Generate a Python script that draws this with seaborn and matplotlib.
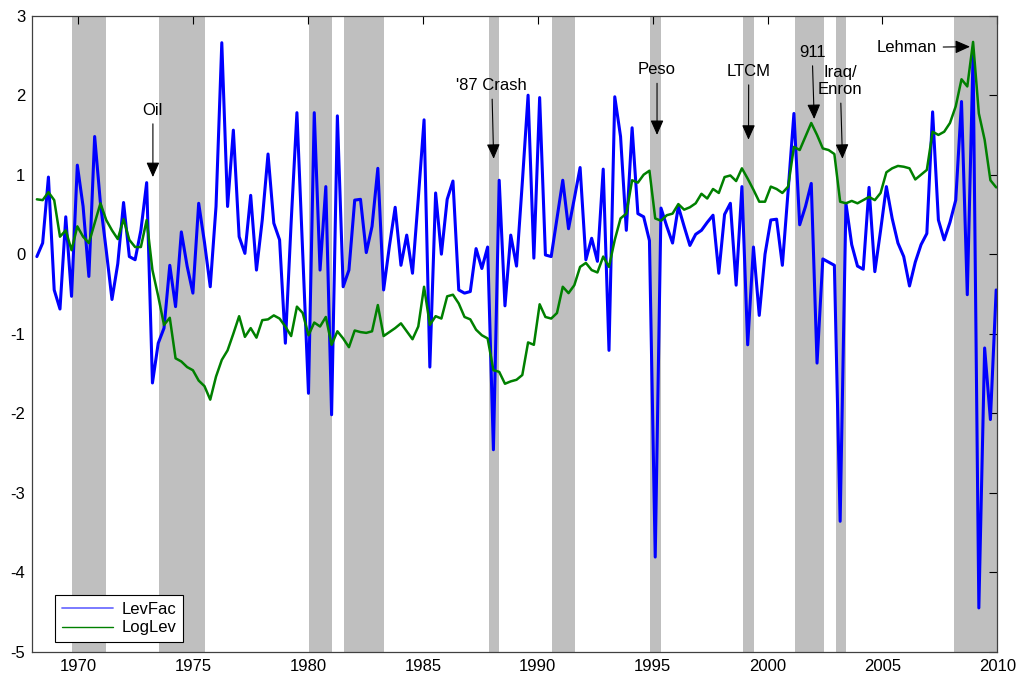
import numpy as np
import pandas as pd
import matplotlib.pyplot as plt
from matplotlib.lines import Line2D
import seaborn as sns

# quarterly series (decimal-year axis)
first_date, last_date = 1968.2, 2009.95

levfac = [
    -0.03, 0.14, 0.97, -0.45, -0.69, 0.47, -0.53, 1.12, 0.60, -0.28,
    1.48, 0.64, 0.05, -0.57, -0.12, 0.65, -0.03, -0.07, 0.30, 0.90,
    -1.62, -1.12, -0.93, -0.14, -0.66, 0.28, -0.15, -0.49, 0.64, 0.15,
    -0.41, 0.60, 2.66, 0.60, 1.56, 0.22, 0.01, 0.74, -0.20, 0.43,
    1.26, 0.39, 0.18, -1.12, 0.40, 1.78, 0.00, -1.75, 1.78, -0.20,
    0.85, -2.02, 1.74, -0.41, -0.20, 0.68, 0.69, 0.02, 0.35, 1.08,
    -0.45, 0.10, 0.59, -0.14, 0.24, -0.24, 0.70, 1.69, -1.42, 0.77,
    0.00, 0.69, 0.92, -0.45, -0.49, -0.47, 0.07, -0.18, 0.09, -2.46,
    0.93, -0.65, 0.24, -0.15, 0.90, 2.00, -0.05, 1.97, -0.01, -0.03,
    0.45, 0.93, 0.32, 0.70, 1.09, -0.07, 0.20, -0.09, 1.07, -1.21,
    1.98, 1.48, 0.30, 1.59, 0.51, 0.47, 0.17, -3.81, 0.58, 0.35,
    0.14, 0.60, 0.35, 0.11, 0.25, 0.30, 0.40, 0.49, -0.24, 0.50,
    0.64, -0.39, 0.85, -1.14, 0.09, -0.77, 0.00, 0.43, 0.44, -0.14,
    0.80, 1.77, 0.37, 0.60, 0.89, -1.37, -0.06, -0.10, -0.14, -3.36,
    0.64, 0.12, -0.15, -0.19, 0.84, -0.22, 0.30, 0.85, 0.45, 0.14,
    -0.03, -0.40, -0.10, 0.12, 0.26, 1.79, 0.43, 0.18, 0.40, 0.68,
    1.92, -0.51, 2.50, -4.45, -1.18, -2.08, -0.45,
]

loglev = [
    0.69, 0.68, 0.78, 0.68, 0.22, 0.30, 0.05, 0.35, 0.22, 0.14,
    0.39, 0.64, 0.43, 0.30, 0.19, 0.44, 0.18, 0.09, 0.09, 0.43,
    -0.20, -0.53, -0.89, -0.80, -1.31, -1.35, -1.42, -1.46, -1.59, -1.66,
    -1.83, -1.54, -1.33, -1.21, -1.00, -0.78, -1.04, -0.93, -1.05, -0.83,
    -0.82, -0.77, -0.81, -0.91, -1.03, -0.66, -0.74, -1.02, -0.86, -0.91,
    -0.79, -1.14, -0.97, -1.06, -1.17, -0.96, -0.98, -0.99, -0.97, -0.64,
    -1.03, -0.98, -0.93, -0.87, -0.97, -1.07, -0.91, -0.41, -0.89, -0.78,
    -0.81, -0.53, -0.51, -0.62, -0.79, -0.82, -0.95, -1.02, -1.06, -1.46,
    -1.48, -1.63, -1.60, -1.58, -1.52, -1.11, -1.14, -0.63, -0.79, -0.81,
    -0.74, -0.41, -0.49, -0.39, -0.16, -0.11, -0.20, -0.23, -0.03, -0.16,
    0.18, 0.45, 0.51, 0.93, 0.90, 1.00, 1.05, 0.45, 0.42, 0.49,
    0.51, 0.63, 0.56, 0.59, 0.64, 0.76, 0.70, 0.82, 0.77, 0.97,
    0.99, 0.92, 1.08, 0.95, 0.81, 0.66, 0.66, 0.85, 0.82, 0.77,
    0.85, 1.35, 1.31, 1.48, 1.65, 1.50, 1.33, 1.31, 1.26, 0.66,
    0.64, 0.67, 0.64, 0.68, 0.72, 0.68, 0.77, 1.03, 1.08, 1.11,
    1.10, 1.08, 0.94, 1.00, 1.06, 1.54, 1.50, 1.54, 1.65, 1.86,
    2.20, 2.11, 2.67, 1.77, 1.44, 0.93, 0.84,
]

# recession shading (start, end)
rec_start = [1969.75, 1973.5, 1980.05, 1981.57, 1987.87, 1990.63, 1994.9,
             1998.93, 2001.19, 2002.96, 2008.12]
rec_end = [1971.2, 1975.5, 1981.06, 1983.32, 1988.33, 1991.63, 1995.38,
           1999.42, 2002.45, 2003.43, 2010.5]

events = ['Oil', "'87 Crash", 'Peso', 'LTCM', '911', 'Iraq/\nEnron', 'Lehman']

dates = np.linspace(first_date, last_date, len(levfac))
df = pd.DataFrame({'date': dates, 'LevFac': levfac, 'LogLev': loglev})

sns.set_style('white')
plt.rcParams['font.family'] = ['Liberation Sans', 'DejaVu Sans']
plt.rcParams['font.size'] = 12
plt.rcParams['text.color'] = 'black'
plt.rcParams['axes.unicode_minus'] = False

fig = plt.figure(figsize=(10.18, 6.76), dpi=100)
ax = fig.add_axes([0.0317, 0.036, 0.948, 0.9408])

for s, e in zip(rec_start, rec_end):
    ax.axvspan(s, e, color='#bfbfbf', lw=0, zorder=0)

sns.lineplot(data=df, x='date', y='LevFac', color='#0000ff', linewidth=2.2, ax=ax, zorder=2)
sns.lineplot(data=df, x='date', y='LogLev', color='#008000', linewidth=1.8, ax=ax, zorder=3)

# annotation layout: (text x, text y, arrow tip x, arrow tip y)
layout = [
    (1973.25, 1.81, 1973.25, 0.97),
    (1988.0, 2.12, 1988.08, 1.20),
    (1995.19, 2.32, 1995.19, 1.50),
    (1999.18, 2.30, 1999.17, 1.44),
    (2001.94, 2.54, 2002.03, 1.70),
    (2003.16, 2.18, 2003.26, 1.20),
    (2006.07, 2.60, 2008.81, 2.61),
]
arrow = dict(arrowstyle='-|>,head_length=0.45,head_width=0.2', color='black',
             lw=0.8, mutation_scale=20, shrinkA=2, shrinkB=0)
for label, (tx, ty, ax_x, ax_y) in zip(events, layout):
    ax.annotate(label, xy=(ax_x, ax_y), xytext=(tx, ty), ha='center', va='center',
                multialignment='center', fontsize=12, color='black',
                arrowprops=arrow, zorder=5)

ax.set_xlim(1968, 2010)
ax.set_ylim(-5, 3)
ax.set_xticks(range(1970, 2011, 5))
ax.set_yticks(range(-5, 4))
ax.set_xlabel('')
ax.set_ylabel('')
ax.tick_params(direction='in', top=True, right=True, length=6, width=0.8,
               labelsize=12, colors='black', pad=5)
for sp in ax.spines.values():
    sp.set_color('#404040')
    sp.set_linewidth(0.9)

handles = [Line2D([], [], color='#7070ff', lw=1.3),
           Line2D([], [], color='#008000', lw=1.0)]
leg = ax.legend(handles, ['LevFac', 'LogLev'], loc='lower left',
                bbox_to_anchor=(0.0235, 0.015), borderaxespad=0, fancybox=False,
                framealpha=1, edgecolor='black', fontsize=12, handlelength=3.1,
                handletextpad=0.5, labelspacing=0.2, borderpad=0.4)
leg.get_frame().set_linewidth(0.8)
for t in leg.get_texts():
    t.set_color('black')

fig.savefig('out.png', dpi=100)
